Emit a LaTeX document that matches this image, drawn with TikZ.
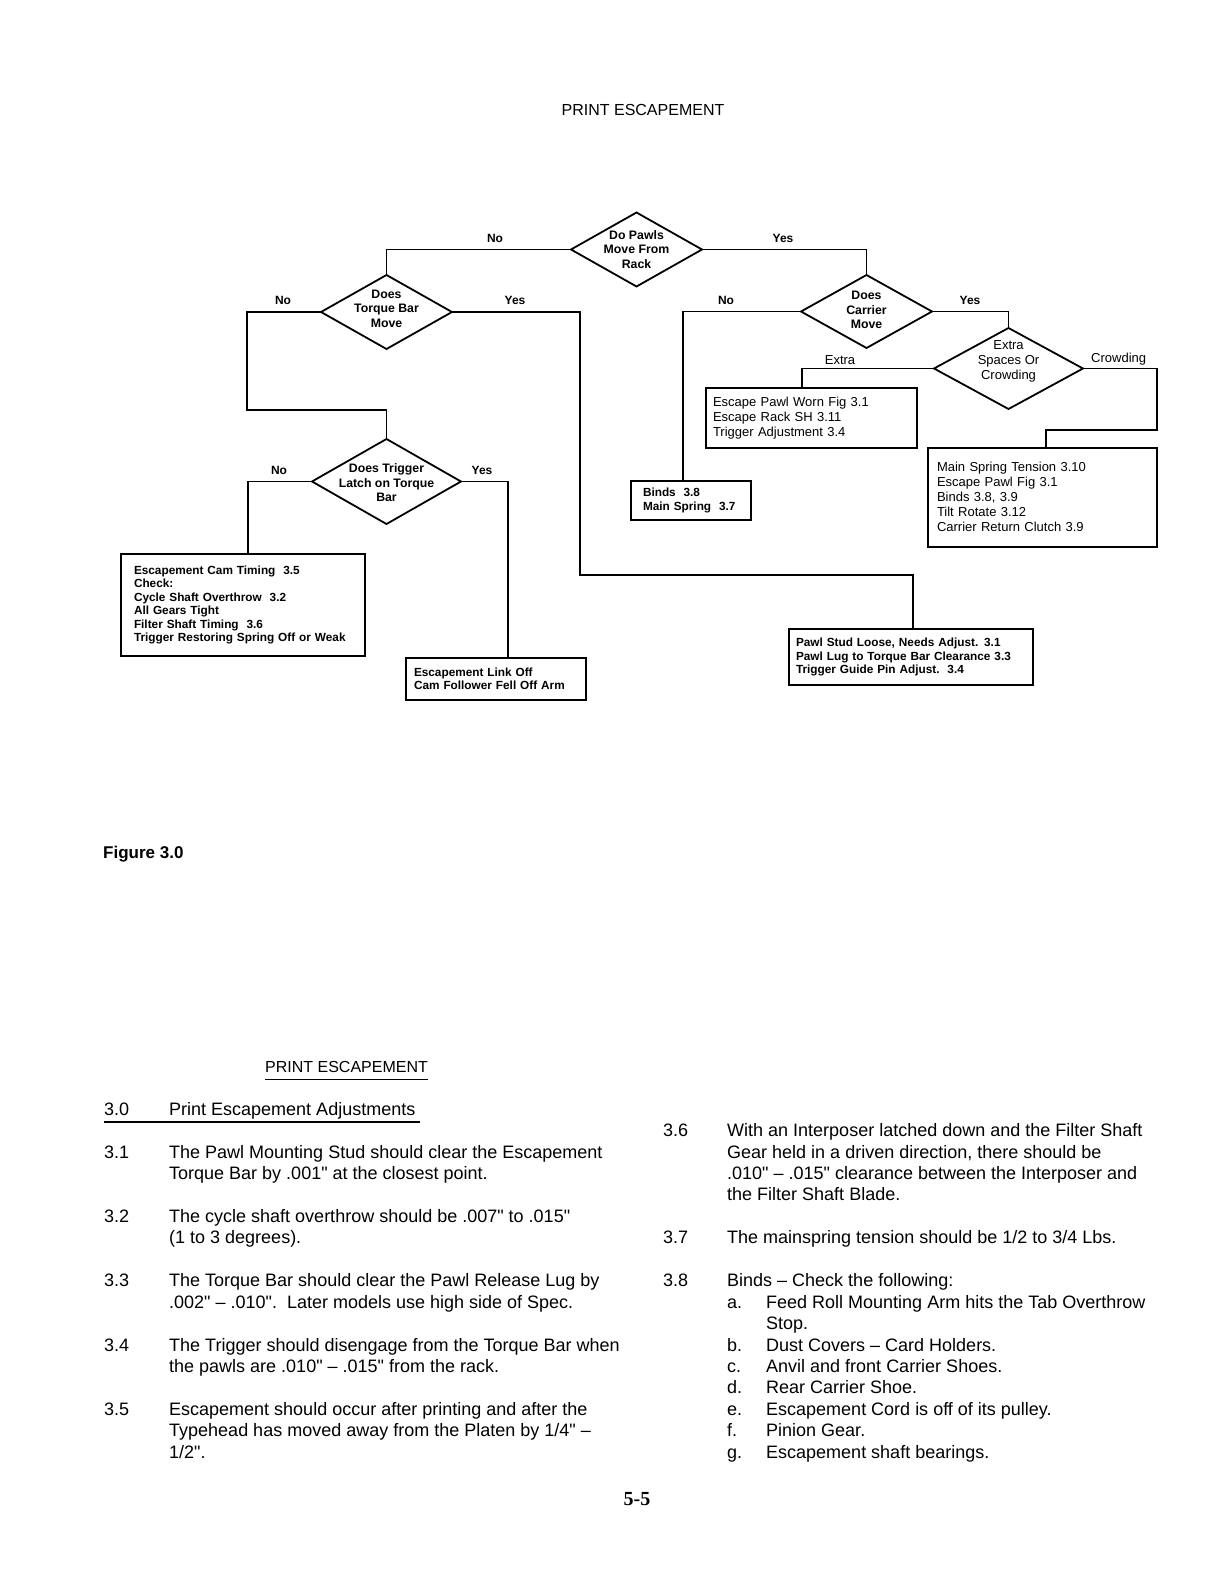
\documentclass[tikz,border=0pt]{standalone}
\usepackage{fontspec}
\setmainfont{Liberation Sans}
\newfontfamily\pagenumfont{Liberation Serif}
\usetikzlibrary{shapes.geometric}
\newcounter{blc}
\newcommand\bline[3]{\stepcounter{blc}\node[bodytext] (bl\arabic{blc}) at (#1,{1158+21.45*(#2)}) {#3};}
\newcommand\iq{\XeTeXglyph\XeTeXcharglyph34\relax}
\begin{document}
\begin{tikzpicture}[x=1pt,y=-1pt,
  conn/.style={line width=1.8pt, line join=miter},
  box/.style={draw, rectangle, line width=2pt, inner ysep=0pt, outer sep=0pt, align=left},
  boxb/.style={box, font=\fontsize{11.8}{13.4}\selectfont\bfseries},
  boxr/.style={box, font=\fontsize{13}{15}\selectfont},
  dia/.style={draw, shape=diamond, line width=1.8pt, inner sep=0pt, outer sep=0pt},
  dtext/.style={align=center, inner sep=0pt, font=\fontsize{12.3}{14.5}\selectfont\bfseries},
  dtextr/.style={align=center, inner sep=0pt, font=\fontsize{13}{15}\selectfont},
  lab/.style={inner sep=0pt, font=\fontsize{12}{14}\selectfont\bfseries},
  labr/.style={inner sep=0pt, font=\fontsize{13}{14}\selectfont},
  bodytext/.style={anchor=base west, inner sep=0pt, font=\fontsize{18}{21.45}\selectfont},
  ttl/.style={inner sep=0pt, font=\fontsize{16}{19}\selectfont},
  uline/.style={line width=1.3pt}]
\fill[white] (0,0) rectangle (1224,1584);
\useasboundingbox (0,0) rectangle (1224,1584);

% titles
\node[ttl, anchor=base] (title) at (643,116) {PRINT ESCAPEMENT};

% diamonds
\node[dia, minimum width=131pt, minimum height=74pt] (pawls) at (636.5,249.5) {};
\node[dia, minimum width=131pt, minimum height=74pt] (torque) at (386.5,312) {};
\node[dia, minimum width=131pt, minimum height=73pt] (carrier) at (866.5,311.5) {};
\node[dia, minimum width=149pt, minimum height=85pt] (trigger) at (386.5,481.5) {};
\node[dia, minimum width=149pt, minimum height=81pt] (extra) at (1008.5,368.5) {};

\node[dtext] (pawlsT) at (pawls.center) {Do Pawls\\Move From\\Rack};
\node[dtext] (torqueT) at ([yshift=3.5pt]torque.center) {Does\\Torque Bar\\Move};
\node[dtext] (carrierT) at ([yshift=1.5pt]carrier.center) {Does\\Carrier\\Move};
\node[dtext] (triggerT) at ([yshift=-1.5pt]trigger.center) {Does Trigger\\Latch on Torque\\Bar};
\node[dtextr] (extraT) at ([yshift=7pt]extra.center) {Extra\\Spaces Or\\Crowding};

% boxes
\node[boxb, minimum width=244pt, minimum height=102pt, text width=218pt, inner xsep=13pt] (camBox) at (243,605) {Escapement Cam Timing~~3.5\\Check:\\Cycle Shaft Overthrow~~3.2\\All Gears Tight\\Filter Shaft Timing~~3.6\\Trigger Restoring Spring Off or Weak};
\node[boxb, minimum width=180pt, minimum height=42pt, text width=164pt, inner xsep=8pt] (linkBox) at (496,678.5) {Escapement Link Off\\Cam Follower Fell Off Arm};
\node[boxb, minimum width=244pt, minimum height=56pt, text width=230pt, inner xsep=7pt] (pawlBox) at (911,657) {Pawl Stud Loose, Needs Adjust. 3.1\\Pawl Lug to Torque Bar Clearance~3.3\\Trigger Guide Pin Adjust.~~3.4};
\node[boxb, minimum width=120pt, minimum height=39pt, text width=96pt, inner xsep=12pt] (bindsBox) at (691,500.5) {Binds~~3.8\\Main Spring~~3.7};
\node[boxr, minimum width=211pt, minimum height=60pt, text width=197pt, inner xsep=7pt] (escBox) at (811.5,418) {Escape Pawl Worn Fig 3.1\\Escape Rack SH 3.11\\Trigger Adjustment 3.4};
\node[boxr, minimum width=229pt, minimum height=99pt, text width=211pt, inner xsep=9pt] (crowdBox) at (1042.5,497) {Main Spring Tension 3.10\\Escape Pawl Fig 3.1\\Binds 3.8, 3.9\\Tilt Rotate 3.12\\Carrier Return Clutch 3.9};

% connectors
\draw[conn] (pawls.west) -| (torque.north);
\draw[conn] (pawls.east) -| (carrier.north);
\draw[conn] (torque.west) -| (247,410) -| (trigger.north);
\draw[conn] (torque.east) -| (580,575) -| ([xshift=2pt]pawlBox.north);
\draw[conn] (trigger.west) -| ([xshift=5pt]camBox.north);
\draw[conn] (trigger.east) -| ([xshift=12pt]linkBox.north);
\draw[conn] (carrier.west) -| ([xshift=-8pt]bindsBox.north);
\draw[conn] (carrier.east) -| (extra.north);
\draw[conn] (extra.west) -| ([xshift=-9.5pt]escBox.north);
\draw[conn] (extra.east) -| (1157,430) -| ([xshift=3.5pt]crowdBox.north);

% branch labels
\node[lab] (lNo1) at (495,238) {No};
\node[lab] (lYes1) at (783,238) {Yes};
\node[lab] (lNo2) at (283,300) {No};
\node[lab] (lYes2) at (515,300) {Yes};
\node[lab] (lNo3) at (279,470) {No};
\node[lab] (lYes3) at (482,470) {Yes};
\node[lab] (lNo4) at (726,300) {No};
\node[lab] (lYes4) at (970,300) {Yes};
\node[labr] (lExtra) at (840,360) {Extra};
\node[labr, anchor=west] (lCrowd) at (1091,359) {Crowding};

% figure caption
\node[inner sep=0pt, anchor=base west, font=\fontsize{17}{20}\selectfont\bfseries] (fig) at (103,858) {Figure 3.0};

% lower section
\node[ttl, anchor=base west] (title2) at (265,{1158-4*21.45}) {PRINT ESCAPEMENT};
\draw[uline] ([yshift=-7pt]title2.base west) -- ([yshift=-7pt]title2.base east);
\node[bodytext] (s30) at (104,{1158-2*21.45}) {3.0};
\node[bodytext] (s30t) at (169,{1158-2*21.45}) {Print Escapement Adjustments};
\draw[uline] ([yshift=-7pt]s30.base west) -- ([xshift=4pt,yshift=-7pt]s30t.base east);

\bline{104}{0}{3.1}
\bline{169}{0}{The Pawl Mounting Stud should clear the Escapement}
\bline{169}{1}{Torque Bar by .001\iq{} at the closest point.}
\bline{104}{3}{3.2}
\bline{169}{3}{The cycle shaft overthrow should be .007\iq{} to .015\iq}
\bline{169}{4}{(1 to 3 degrees).}
\bline{104}{6}{3.3}
\bline{169}{6}{The Torque Bar should clear the Pawl Release Lug by}
\bline{169}{7}{.002\iq{} -- .010\iq.\ \ Later models use high side of Spec.}
\bline{104}{9}{3.4}
\bline{169}{9}{The Trigger should disengage from the Torque Bar when}
\bline{169}{10}{the pawls are .010\iq{} -- .015\iq{} from the rack.}
\bline{104}{12}{3.5}
\bline{169}{12}{Escapement should occur after printing and after the}
\bline{169}{13}{Typehead has moved away from the Platen by 1/4\iq{} --}
\bline{169}{14}{1/2\iq.}

\bline{663}{-1}{3.6}
\bline{727}{-1}{With an Interposer latched down and the Filter Shaft}
\bline{727}{0}{Gear held in a driven direction, there should be}
\bline{727}{1}{.010\iq{} -- .015\iq{} clearance between the Interposer and}
\bline{727}{2}{the Filter Shaft Blade.}
\bline{663}{4}{3.7}
\bline{727}{4}{The mainspring tension should be 1/2 to 3/4 Lbs.}
\bline{663}{6}{3.8}
\bline{727}{6}{Binds -- Check the following:}
\bline{727}{7}{a.}
\bline{766}{7}{Feed Roll Mounting Arm hits the Tab Overthrow}
\bline{766}{8}{Stop.}
\bline{727}{9}{b.}
\bline{766}{9}{Dust Covers -- Card Holders.}
\bline{727}{10}{c.}
\bline{766}{10}{Anvil and front Carrier Shoes.}
\bline{727}{11}{d.}
\bline{766}{11}{Rear Carrier Shoe.}
\bline{727}{12}{e.}
\bline{766}{12}{Escapement Cord is off of its pulley.}
\bline{727}{13}{f.}
\bline{766}{13}{Pinion Gear.}
\bline{727}{14}{g.}
\bline{766}{14}{Escapement shaft bearings.}

\node[inner sep=0pt, anchor=base, font=\pagenumfont\fontsize{20}{24}\selectfont\bfseries] (pnum) at (637,1505) {5-5};
\end{tikzpicture}
\end{document}
